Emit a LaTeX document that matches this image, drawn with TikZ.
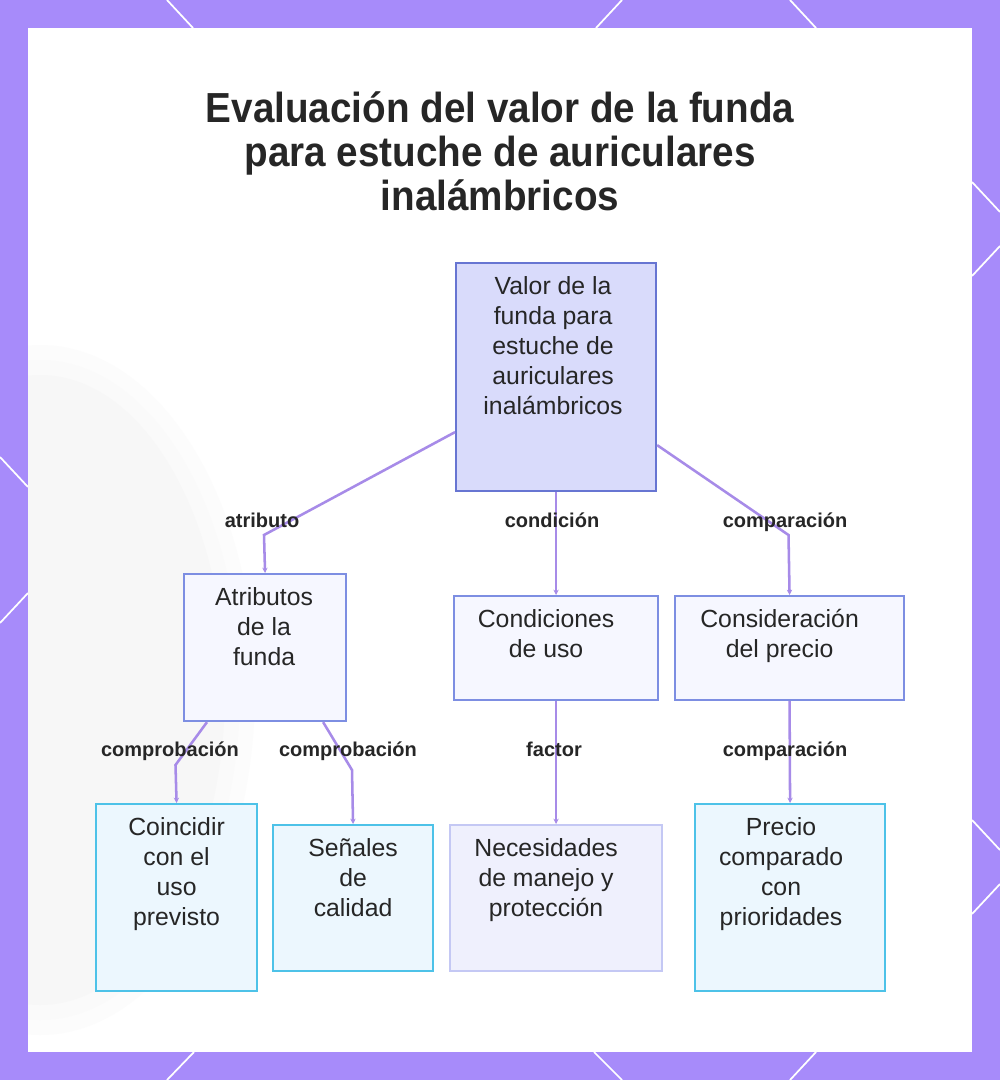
\documentclass[tikz,border=0pt]{standalone}
\usepackage{fontspec}
\setmainfont{Liberation Sans}
\newfontfamily\titlefont[FakeStretch=0.92]{Liberation Sans}
\usetikzlibrary{arrows.meta,calc}
\definecolor{frame}{HTML}{A78BFA}
\definecolor{edgecol}{HTML}{A78BE8}
\definecolor{rootfill}{HTML}{D9DBFB}
\definecolor{rootdraw}{HTML}{6775D2}
\definecolor{midfill}{HTML}{F6F7FF}
\definecolor{middraw}{HTML}{7D8EE2}
\definecolor{leaffill}{HTML}{ECF7FE}
\definecolor{leafdraw}{HTML}{4DC2E8}
\definecolor{softfill}{HTML}{EFF0FD}
\definecolor{softdraw}{HTML}{C4C8F4}
\definecolor{txt}{HTML}{262626}
% width, height, horizontal shift of the text, text
\newcommand{\bx}[4]{\parbox[c][#2][t]{#1}{\vspace*{8pt}\centering\makebox[0pt]{\hspace*{#3}\begin{tabular}[t]{@{}c@{}}#4\end{tabular}}}}
\tikzset{
  box/.style={rectangle, inner sep=0pt, anchor=north west, line width=1.6pt,
    font=\fontsize{18.6pt}{22.5pt}\selectfont, text=txt},
  rootbox/.style={box, fill=rootfill, draw=rootdraw},
  midbox/.style={box, fill=midfill, draw=middraw},
  leafbox/.style={box, fill=leaffill, draw=leafdraw},
  softbox/.style={box, fill=softfill, draw=softdraw},
  edge/.style={draw=edgecol, line width=1.9pt, -{Stealth[length=4pt,width=4pt]}},
  elabel/.style={font=\bfseries\fontsize{15pt}{17pt}\selectfont, text=txt, inner sep=0pt, anchor=base},
  wline/.style={draw=white, line width=1.3pt}
}
\begin{document}
\begin{tikzpicture}[x=0.75pt,y=-0.75pt]
\useasboundingbox (0,0) rectangle (1000,1080);
% frame
\fill[frame] (0,0) rectangle (1000,1080);
\fill[white] (28,28) rectangle (972,1052);
\draw[wline] (167,0) -- (193,28);
\draw[wline] (622,0) -- (596,28);
\draw[wline] (790,0) -- (816,28);
\draw[wline] (194,1052) -- (167,1080);
\draw[wline] (594,1052) -- (622,1080);
\draw[wline] (816,1052) -- (790,1080);
\draw[wline] (0,457) -- (28,487);
\draw[wline] (28,593) -- (0,623);
\draw[wline] (972,182) -- (1000,212);
\draw[wline] (1000,246) -- (972,276);
\draw[wline] (972,820) -- (1000,850);
\draw[wline] (1000,884) -- (972,914);
% soft background blob
\begin{scope}
\clip (28,28) rectangle (972,1052);
\fill[gray!2] (40,690) ellipse [x radius=215, y radius=345];
\fill[gray!4] (40,690) ellipse [x radius=200, y radius=330];
\fill[gray!6] (40,690) ellipse [x radius=185, y radius=315];
\end{scope}
% title
\node[font=\titlefont\bfseries\fontsize{31.5pt}{33pt}\selectfont, text=txt, align=center, anchor=center] (title) at (500,151)
  {Evaluación del valor de la funda\\para estuche de auriculares\\inalámbricos};
% nodes
\node[rootbox] (root) at (455,262) {\bx{150pt}{171pt}{-4.5pt}{Valor de la\\funda para\\estuche de\\auriculares\\inalámbricos}};
\node[midbox] (attr) at (183,573) {\bx{121.5pt}{110.25pt}{-1.5pt}{Atributos\\de la\\funda}};
\node[midbox] (cond) at (453,595) {\bx{153pt}{78pt}{-15pt}{Condiciones\\de uso}};
\node[midbox] (cons) at (674,595) {\bx{171.75pt}{78pt}{-15pt}{Consideración\\del precio}};
\node[leafbox] (coin) at (95,803) {\bx{120.75pt}{140.25pt}{0pt}{Coincidir\\con el\\uso\\previsto}};
\node[leafbox] (sen) at (272,824) {\bx{120pt}{109.5pt}{0pt}{Señales\\de\\calidad}};
\node[softbox] (nec) at (449,824) {\bx{159pt}{109.5pt}{-15pt}{Necesidades\\de manejo y\\protección}};
\node[leafbox] (pre) at (694,803) {\bx{142.5pt}{140.25pt}{-13.5pt}{Precio\\comparado\\con\\prioridades}};
% bend points
\coordinate (b1) at (264,535);
\coordinate (b2) at (788.5,535);
\coordinate (b3) at (175.5,765);
\coordinate (b4) at (352,770);
% connectors
\draw[edge] ($(root.south west)+(0,-60)$) -- (b1) -- (attr.north);
\draw[edge] (root.south) -- (cond.north);
\draw[edge] ($(root.south east)+(0,-47)$) -- (b2) -- (cons.north);
\draw[edge] ($(attr.south west)+(24,0)$) -- (b3) -- (coin.north);
\draw[edge] ($(attr.south east)+(-24,0)$) -- (b4) -- (sen.north);
\draw[edge] (cond.south) -- (nec.north);
\draw[edge] (cons.south) -- (pre.north);
% labels
\node[elabel] (l1) at (262,527) {atributo};
\node[elabel] (l2) at (552,527) {condición};
\node[elabel] (l3) at (785,527) {comparación};
\node[elabel] (l4) at (170,756) {comprobación};
\node[elabel] (l5) at (348,756) {comprobación};
\node[elabel] (l6) at (554,756) {factor};
\node[elabel] (l7) at (785,756) {comparación};
\end{tikzpicture}
\end{document}
